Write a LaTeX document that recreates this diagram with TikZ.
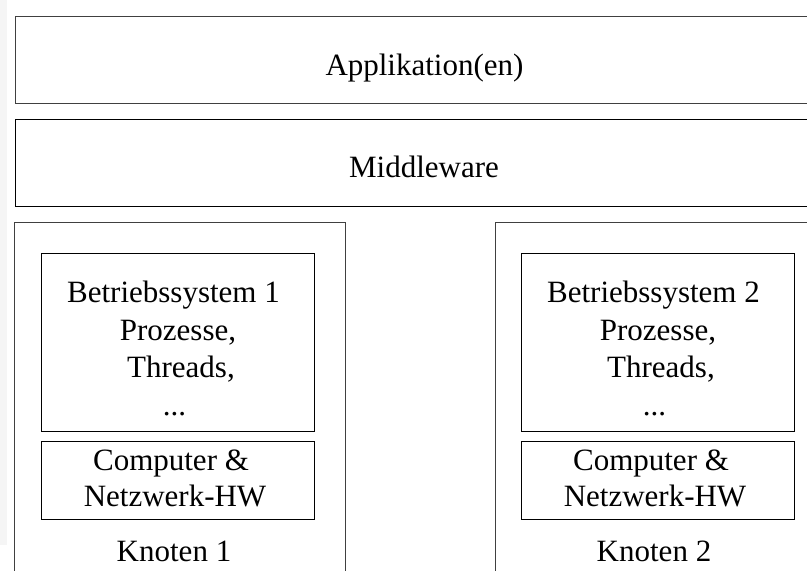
\documentclass[tikz,border=0pt]{standalone}
\usepackage{fontspec}
\setmainfont{Liberation Serif}
\begin{document}
\begin{tikzpicture}[x=1pt,y=-1pt,
  box/.style={draw=black!75, line width=1pt, inner sep=0pt, rectangle},
  lbl/.style={font=\fontsize{31}{37}\selectfont, anchor=base, inner sep=0pt}]
\useasboundingbox (0,0) rectangle (807,571);
\clip (0,0) rectangle (807,571);
% faint margin strip on the left
\fill[black!4] (0,0) rectangle (7,545);

% layers spanning the whole width
\node[box, minimum width=825pt, minimum height=87pt] (app) at (427.5,60) {};
\node[box, minimum width=825pt, minimum height=87pt, draw=black] (mw) at (427.5,162.5) {};

% the two nodes
\node[box, minimum width=331pt, minimum height=380pt] (k1) at (180,412) {};
\node[box, minimum width=345pt, minimum height=380pt] (k2) at (668,412) {};

% operating system and hardware inside each node
\node[box, draw=black, minimum width=273pt, minimum height=178pt] (os1) at (178,342.5) {};
\node[box, draw=black, minimum width=273pt, minimum height=78pt]  (hw1) at (178,480) {};
\node[box, draw=black, minimum width=273pt, minimum height=178pt] (os2) at (658,342.5) {};
\node[box, draw=black, minimum width=273pt, minimum height=78pt]  (hw2) at (658,480) {};

% labels
\node[lbl] (tapp) at (424.5,75.7) {Applikation(en)};
\node[lbl] (tmw)  at (424,177.3) {Middleware};

\node[lbl] (os1a) at (173.5,302.7) {Betriebssystem 1};
\node[lbl] (os1b) at (178,340) {Prozesse,};
\node[lbl] (os1c) at (181,377) {Threads,};
\node[lbl] (os1d) at (174.5,415) {...};
\node[lbl] (hw1a) at (171,470.7) {Computer \&};
\node[lbl] (hw1b) at (175,506) {Netzwerk-HW};
\node[lbl] (k1t)  at (174,561) {Knoten 1};

\node[lbl] (os2a) at (653.5,302.7) {Betriebssystem 2};
\node[lbl] (os2b) at (658,340) {Prozesse,};
\node[lbl] (os2c) at (661,377) {Threads,};
\node[lbl] (os2d) at (654.5,415) {...};
\node[lbl] (hw2a) at (651,470.7) {Computer \&};
\node[lbl] (hw2b) at (655,506) {Netzwerk-HW};
\node[lbl] (k2t)  at (654,561) {Knoten 2};
\end{tikzpicture}
\end{document}
